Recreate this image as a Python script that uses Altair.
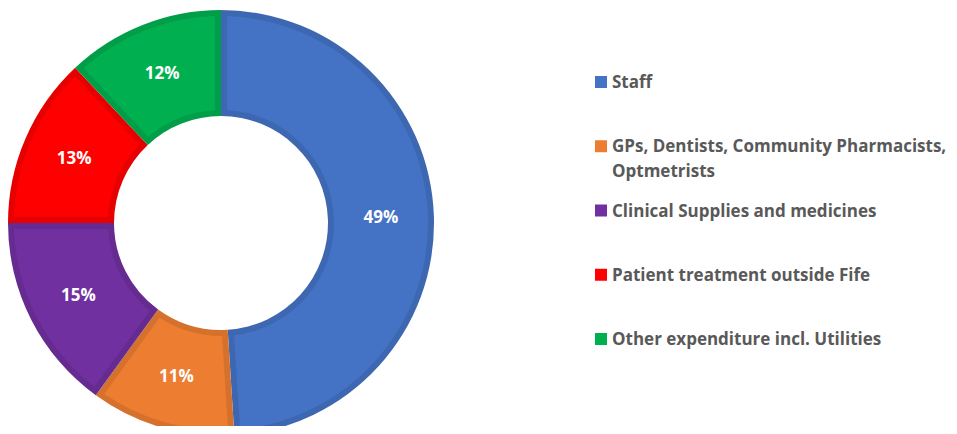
import altair as alt
import pandas as pd

CATEGORIES = [
    "Staff",
    "GPs, Dentists, Community Pharmacists,\nOptmetrists",
    "Clinical Supplies and medicines",
    "Patient treatment outside Fife",
    "Other expenditure incl. Utilities",
]
VALUES = [49, 11, 15, 13, 12]
LABELS = ["49%", "11%", "15%", "13%", "12%"]
COLORS = ["#4472C4", "#ED7D31", "#7030A0", "#FF0000", "#00B050"]
DARK = ["#3D67B0", "#D5712C", "#652B90", "#E60000", "#009E48"]

df = pd.DataFrame({
    "cat": CATEGORIES,
    "value": VALUES,
    "label": LABELS,
    "idx": list(range(len(CATEGORIES))),
})

FONT = "Open Sans"
CX, CY = 213, 215
R_OUT, R_IN = 213, 107
INSET = 6

base = alt.Chart(df)
theta = alt.Theta("value:Q", stack=True)
order = alt.Order("idx:Q", sort="ascending")

ring_dark = base.mark_arc().encode(
    theta=theta,
    order=order,
    color=alt.Color("cat:N", scale=alt.Scale(domain=CATEGORIES, range=DARK), legend=None),
    x=alt.value(CX), y=alt.value(CY),
    radius=alt.value(R_OUT), radius2=alt.value(R_IN),
)

ring = base.mark_arc(padAngle=0.051).encode(
    theta=theta,
    order=order,
    color=alt.Color("cat:N", scale=alt.Scale(domain=CATEGORIES, range=COLORS), legend=None),
    x=alt.value(CX), y=alt.value(CY),
    radius=alt.value(R_OUT - INSET), radius2=alt.value(R_IN + INSET),
)

labels = base.mark_text(
    radius=(R_OUT + R_IN) / 2, font=FONT, fontSize=17, fontWeight="bold",
    color="white", align="center", baseline="middle",
).encode(
    theta=theta,
    order=order,
    text="label:N",
    x=alt.value(CX), y=alt.value(CY),
)

ypos = alt.Y("cat:N", scale=alt.Scale(type="point", domain=CATEGORIES, range=[74, 331], padding=0), axis=None)

leg_sq = base.mark_square(size=144, opacity=1).encode(
    x=alt.value(593),
    y=ypos,
    color=alt.Color("cat:N", scale=alt.Scale(domain=CATEGORIES, range=COLORS), legend=None),
)

leg_txt = base.mark_text(
    align="left", baseline="alphabetic", dy=6, font=FONT, fontSize=17,
    fontWeight="bold", color="#595959", lineBreak="\n", lineHeight=25,
).encode(
    x=alt.value(604),
    y=ypos,
    text="cat:N",
)

chart = alt.layer(ring_dark, ring, labels, leg_sq, leg_txt).resolve_scale(
    color="independent"
).properties(
    width=941, height=418, padding=0, autosize=alt.AutoSizeParams(type="none"),
).configure_view(stroke=None)

chart.save("out.html", embed_options={"renderer": "svg", "actions": False})
